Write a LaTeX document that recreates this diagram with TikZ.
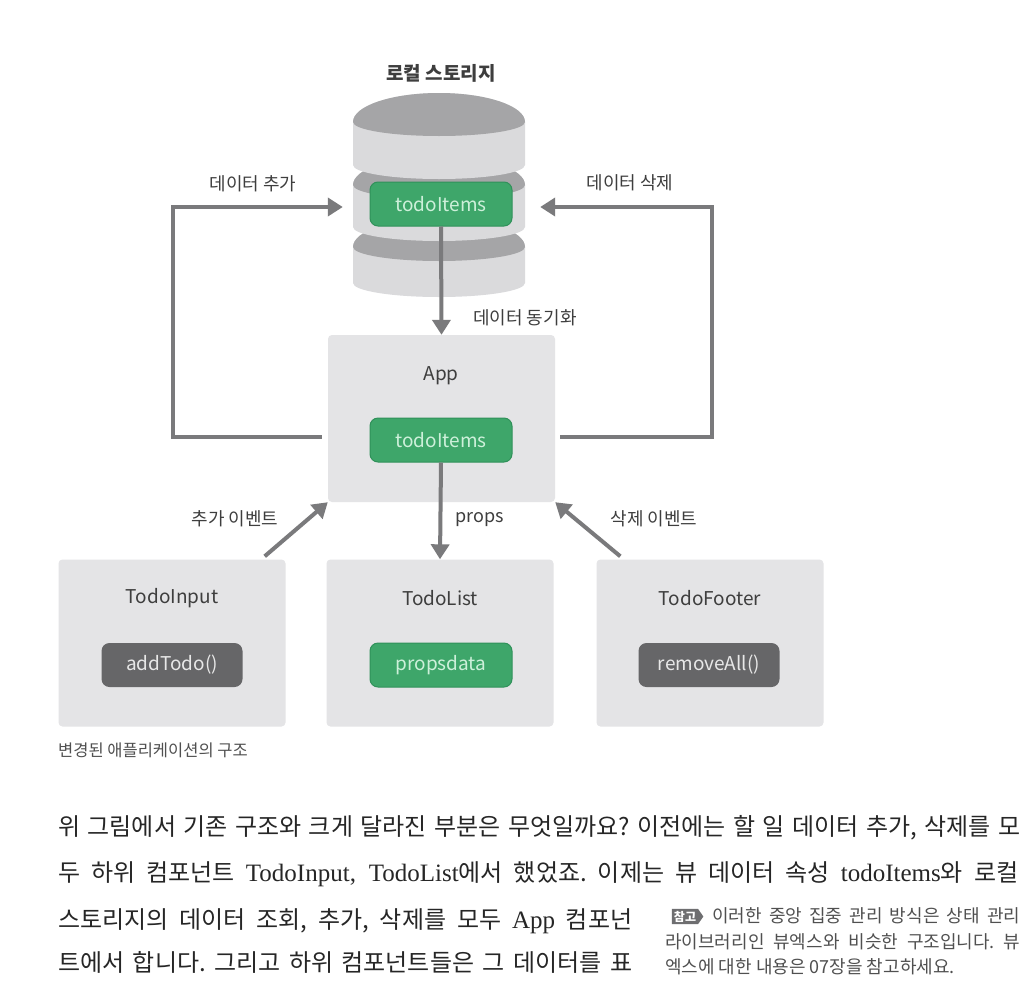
\documentclass[tikz,border=0pt]{standalone}
\usepackage{fontspec}
\setmainfont{Noto Sans CJK KR}
\newfontfamily\latinserif{Liberation Serif}
\usetikzlibrary{arrows.meta,calc,shapes.symbols}
\definecolor{boxgray}{RGB}{228,228,230}
\definecolor{grn}{RGB}{62,166,106}
\definecolor{grnline}{RGB}{48,145,90}
\definecolor{grntext}{RGB}{205,240,218}
\definecolor{fnbox}{RGB}{102,102,104}
\definecolor{fntext}{RGB}{232,232,232}
\definecolor{arrgray}{RGB}{122,122,124}
\definecolor{lbl}{RGB}{62,62,62}
\definecolor{dblight}{RGB}{218,218,220}
\definecolor{dbdark}{RGB}{165,165,167}
\definecolor{bodytxt}{RGB}{38,38,38}
\definecolor{notetxt}{RGB}{80,80,80}
\definecolor{tagfill}{RGB}{110,110,112}
\frenchspacing
\begin{document}
\begin{tikzpicture}[x=1pt,y=1pt,
  comp/.style={fill=boxgray, rounded corners=4pt, minimum width=227pt, minimum height=167pt, inner sep=0pt},
  greenbox/.style={fill=grn, draw=grnline, line width=1pt, rounded corners=8pt, minimum width=142pt, minimum height=44pt, inner sep=0pt, text=grntext, font=\fontsize{19}{22}\selectfont},
  fnboxst/.style={fill=fnbox, rounded corners=8pt, minimum width=141pt, minimum height=44pt, inner sep=0pt, text=fntext, font=\fontsize{19}{22}\selectfont},
  compname/.style={text=lbl, inner sep=0pt, font=\fontsize{19}{22}\selectfont},
  lab/.style={text=lbl, inner sep=0pt, font=\fontsize{18}{21}\selectfont},
  arr/.style={draw=arrgray, line width=4pt, -{Triangle[width=18pt,length=15pt]}},
  bodyline/.style={anchor=west, inner sep=0pt, text=bodytxt, font=\fontsize{24}{28}\selectfont},
  noteline/.style={anchor=west, inner sep=0pt, text=notetxt, font=\fontsize{18}{21}\selectfont},
]
\fill[white] (0,0) rectangle (1030,-988);
\useasboundingbox (0,0) rectangle (1030,-988);

% title
\node[text=lbl, inner sep=0pt, font=\bfseries\fontsize{19}{22}\selectfont] (title) at (441,-73) {로컬 스토리지};

% database cylinder (three disks, bottom first)
\foreach \yc/\hh in {247/36, 185/42, 122/43}{
  \fill[dblight] (353,-\yc) -- (353,-\yc-\hh) arc[start angle=180,end angle=360,x radius=86pt,y radius=14pt]
      -- (525,-\yc) arc[start angle=0,end angle=180,x radius=86pt,y radius=29pt] -- cycle;
  \fill[dbdark] (353,-\yc) arc[start angle=180,end angle=0,x radius=86pt,y radius=29pt]
      arc[start angle=0,end angle=-180,x radius=86pt,y radius=14pt] -- cycle;
}
\node[minimum width=172pt, minimum height=210pt, inner sep=0pt] (db) at (439,-198) {};
\node[greenbox] (dbitems) at (441,-204) {todoItems};

% App
\node[comp] (app) at (441.5,-418.5) {};
\node[compname] (appname) at (441,-376) {App};
\node[greenbox] (appitems) at (441,-440) {todoItems};

% children
\node[comp] (input) at (172,-643) {};
\node[compname] (inputname) at (172,-598) {TodoInput};
\node[fnboxst] (addtodo) at (172,-665) {addTodo()};

\node[comp] (list) at (440,-643) {};
\node[compname] (listname) at (440,-598) {TodoList};
\node[greenbox] (propsdata) at (441,-665) {propsdata};

\node[comp] (footer) at (710,-643) {};
\node[compname] (footername) at (710,-598) {TodoFooter};
\node[fnboxst] (removeall) at (709,-665) {removeAll()};

% connectors
\draw[arr] (dbitems.south) -- (app.north);
\node[lab, anchor=west] (synclbl) at (473,-318) {데이터 동기화};

\draw[arr] (appitems.south) -- (list.north);
\node[lab, anchor=west] (propslbl) at (455,-520) {props};

\coordinate (L1) at (173,-437);
\coordinate (L2) at (173,-207);
\draw[arr, line join=miter, shorten <=6pt, shorten >=10pt] (app.west |- L1) -- (L1) -- (L2) -- (db.west |- L2);
\node[lab] (addlbl) at (253,-184) {데이터 추가};

\coordinate (R1) at (712,-437);
\coordinate (R2) at (712,-207);
\draw[arr, line join=miter, shorten <=5pt, shorten >=15pt] (app.east |- R1) -- (R1) -- (R2) -- (db.east |- R2);
\node[lab] (dellbl) at (630,-183) {데이터 삭제};

\draw[arr] ($(input.north east)+(-21,3)$) -- (app.south west);
\node[lab] (addevt) at (235,-519) {추가 이벤트};
\draw[arr] ($(footer.north west)+(24,3)$) -- (app.south east);
\node[lab] (delevt) at (654,-519) {삭제 이벤트};

% caption
\node[anchor=west, inner sep=0pt, text=notetxt, font=\fontsize{16.5}{19}\selectfont] (caption) at (58,-750) {변경된 애플리케이션의 구조};

% body text
\node[bodyline] (p1) at (58,-828) {\makebox[962pt][s]{위 그림에서 기존 구조와 크게 달라진 부분은 무엇일까요? 이전에는 할 일 데이터 추가, 삭제를 모}};
\node[bodyline] (p2) at (58,-874) {\makebox[960pt][s]{두 하위 컴포넌트 {\latinserif\fontsize{25}{28}\selectfont TodoInput, TodoList}에서 했었죠. 이제는 뷰 데이터 속성 {\latinserif\fontsize{25}{28}\selectfont todoItems}와 로컬}};
\node[bodyline] (p3) at (58,-921) {\makebox[574pt][s]{스토리지의 데이터 조회, 추가, 삭제를 모두 {\latinserif\fontsize{25}{28}\selectfont App} 컴포넌}};
\node[bodyline] (p4) at (58,-962) {\makebox[574pt][s]{트에서 합니다. 그리고 하위 컴포넌트들은 그 데이터를 표}};

% note
\node[signal, signal to=east, signal pointer angle=110, fill=tagfill, text=white, inner sep=2pt, font=\bfseries\fontsize{12}{14}\selectfont] (notetag) at (685,-916.5) {참고};
\node[noteline] (n1) at (712,-916) {\makebox[308pt][s]{이러한 중앙 집중 관리 방식은 상태 관리}};
\node[noteline] (n2) at (665,-942) {\makebox[355pt][s]{라이브러리인 뷰엑스와 비슷한 구조입니다. 뷰}};
\node[noteline] (n3) at (665,-967) {엑스에 대한 내용은 07장을 참고하세요.};
\end{tikzpicture}
\end{document}
